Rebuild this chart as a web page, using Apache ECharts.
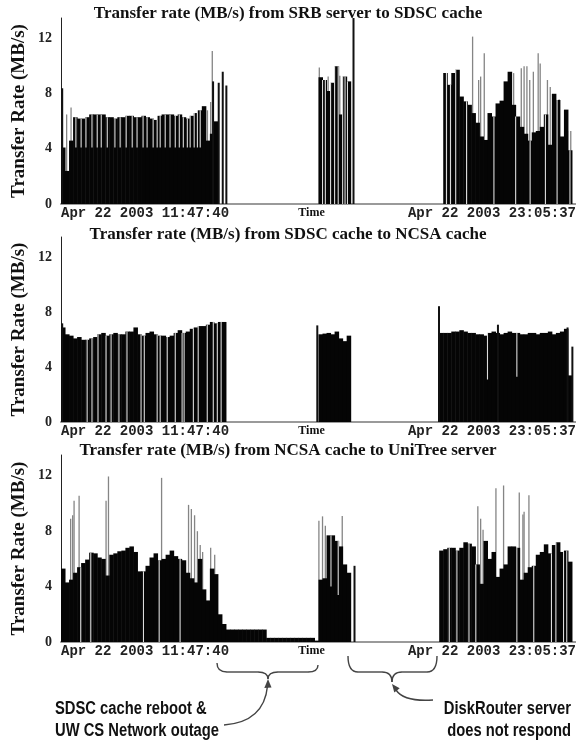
<!DOCTYPE html>
<html><head><meta charset="utf-8">
<script src="https://cdn.jsdelivr.net/npm/echarts@6/dist/echarts.min.js"></script>
<style>html,body{margin:0;padding:0;background:#fff}#c{width:576px;height:749px}</style>
</head><body><div id="c"></div>
<script>
// ---------- text ----------
const panelTitles = [
  'Transfer rate (MB/s) from SRB server to SDSC cache',
  'Transfer rate (MB/s) from SDSC cache to NCSA cache',
  'Transfer rate (MB/s) from NCSA cache to UniTree server'
];
const yAxisName = 'Transfer Rate (MB/s)';
const xAxisName = 'Time';
const timeLabels = ['Apr 22 2003 11:47:40', 'Apr 22 2003 23:05:37'];
const yMax = 13.5, yStep = 4;
const binCount = 128; // time bins across the 11:47:40 - 23:05:37 window

// ---------- panel 1 : SRB server -> SDSC cache ----------
// rate per time bin: [startBin, values...]
const srbRate = [
  [0, [4.1, 2.4, 4.6, 6.3, 6.2, 6.2, 6.3, 6.5, 6.5, 6.5, 6.5, 6.3, 6.3, 6.2, 6.3, 6.3, 6.4, 6.4, 6.3, 6.3,
       6.4, 6.3, 6.2, 6.1, 6.4, 6.5, 6.5, 6.5, 6.4, 6.5, 6.3, 6.2, 6.4, 6.6, 6.8, 7.1, 4.6, 5.1, 6.0]],
  [64, [9.2, 9.0, 8.2, 8.8, 10.0, 6.5, 9.25, 8.9]],
  [95, [9.5, 8.65, 9.5, 9.75, 7.8, 7.45, 7.2, 6.6, 5.9, 4.9, 4.65, 6.6, 6.35, 7.3, 7.5, 8.9, 9.6, 7.2, 6.35, 5.6,
        5.1, 4.6, 5.2, 5.3, 5.6, 6.5, 4.3, 8.0, 7.55, 4.9, 6.85, 3.9]]
];
// single peak transfers [bin position, rate]
const srbPeaks = [[1.4, 6.5], [2.5, 7.0], [36.4, 6.8], [37.2, 7.4], [37.6, 11.1], [64.2, 9.9], [65.3, 8.4],
  [66.4, 9.25], [69.3, 9.3], [70.9, 9.0], [71.4, 8.8], [102.3, 12.15], [103.8, 9.0], [104.3, 9.25],
  [105.2, 10.95], [112.5, 9.5], [114.4, 9.85], [115.1, 10.0], [115.8, 10.0], [116.5, 9.0], [117.4, 9.6],
  [118.6, 10.95], [119.1, 10.2], [120.9, 9.0], [121.6, 8.5], [123.8, 7.6], [125.9, 5.3], [126.7, 5.3]];
const srbLines = [[0.3, 8.4], [37.8, 8.9], [39.2, 8.8], [40.2, 9.6], [41.1, 8.6], [72.7, 13.5]];
// idle gaps [bin position, lowest rate inside the gap]
const srbGaps = [[3.7, 4.1], [5.0, 4.1], [6.2, 4.1], [7.7, 4.1], [9.0, 4.1], [10.0, 4.1], [11.5, 4.1],
  [13.4, 4.1], [14.7, 4.1], [16.2, 4.1], [17.7, 4.1], [18.9, 4.1], [20.4, 4.1], [21.4, 4.1], [22.9, 4.1],
  [23.9, 4.1], [24.65, 4.1], [25.9, 4.1], [27.1, 4.1], [28.4, 4.1], [29.4, 4.1], [30.4, 4.1], [31.4, 4.1],
  [32.1, 4.1], [33.1, 4.1], [33.9, 4.1], [34.6, 4.1], [65.0, 0], [65.7, 0], [67.0, 0], [68.0, 0], [68.9, 0],
  [70.0, 0], [70.6, 0], [71.2, 0], [95.8, 0], [96.8, 0], [98.1, 0], [100.8, 0], [107.6, 0], [113.0, 0],
  [116.6, 0], [120.4, 0], [123.3, 0], [126.5, 0]];

// ---------- panel 2 : SDSC cache -> NCSA cache ----------
const ncsaRate = [
  [0, [6.9, 6.4, 6.3, 6.1, 6.2, 6.0, 6.0, 6.1, 6.2, 6.4, 6.5, 6.3, 6.4, 6.5, 6.4, 6.4, 6.6, 6.6, 6.9, 6.4,
       6.3, 6.5, 6.6, 6.4, 6.3, 6.3, 6.2, 6.3, 6.5, 6.7, 6.5, 6.6, 6.8, 6.9, 7.0, 7.0, 7.1, 7.3, 7.2, 7.3, 7.3]],
  [64, [6.4, 6.45, 6.5, 6.4, 6.6, 6.1, 5.9, 6.3]],
  [94, [6.5, 6.5, 6.5, 6.6, 6.6, 6.7, 6.6, 6.5, 6.5, 6.4, 6.4, 6.3, 6.5, 6.6, 6.5, 6.4, 6.5, 6.6, 6.5, 6.5,
        6.4, 6.4, 6.5, 6.5, 6.4, 6.5, 6.5, 6.6, 6.4, 6.5, 6.6, 6.8, 3.4]]
];
const ncsaPeaks = [];
const ncsaLines = [[0.3, 7.2], [63.7, 7.05], [93.95, 8.45], [108.6, 7.1], [125.9, 6.9], [127.1, 5.5]];
const ncsaGaps = [[6.5, 0], [7.7, 0], [9.2, 0], [11.2, 0], [12.45, 0], [14.4, 0], [16.4, 0], [19.9, 0],
  [20.7, 0], [23.9, 0], [24.65, 0], [26.4, 0], [28.4, 0], [30.1, 0], [30.6, 0], [32.9, 0], [34.1, 0],
  [36.35, 0], [37.85, 0], [38.85, 0], [39.8, 0], [106.0, 3.1], [113.3, 3.3]];

// ---------- panel 3 : NCSA cache -> UniTree server ----------
const utRate = [
  [0, [5.3, 4.3, 4.5, 5.0, 5.4, 5.7, 5.95, 6.45, 6.4, 6.1, 6.0, 4.8, 6.3, 6.4, 6.55, 6.6, 6.8, 6.9, 6.5, 5.1,
       5.1, 5.5, 6.1, 6.4, 5.9, 6.0, 6.3, 6.6, 6.2, 6.0, 5.9, 5.0, 4.6, 4.3, 6.0, 3.8, 3.0, 5.3, 4.9, 2.0,
       1.3, 0.9, 0.9, 0.9, 0.9, 0.9, 0.9, 0.9, 0.9, 0.9, 0.9, 0.3, 0.3, 0.3, 0.3, 0.3, 0.3, 0.3, 0.3, 0.3,
       0.3, 0.3, 0.3, 0.1]],
  [64, [4.5, 4.6, 7.7, 7.7, 7.3, 6.9, 5.6, 5.0]],
  [94, [6.6, 6.7, 6.8, 6.8, 6.6, 6.8, 7.2, 7.1, 6.9, 5.6, 4.2, 7.3, 6.0, 6.5, 4.7, 5.3, 5.6, 6.9, 6.9, 6.8,
        4.5, 5.0, 5.4, 5.5, 6.3, 6.5, 7.05, 6.4, 7.0, 7.2, 6.5, 6.6, 5.8]]
];
const utPeaks = [[2.4, 8.9], [2.9, 9.15], [3.25, 10.2], [4.5, 10.55], [11.2, 10.2], [11.8, 11.95],
  [25.0, 11.85], [31.7, 9.9], [32.4, 9.6], [33.2, 9.15], [33.9, 8.0], [34.6, 7.0], [35.2, 6.5], [37.2, 6.8],
  [38.2, 6.3], [64.1, 8.75], [65.0, 9.07], [65.7, 8.4], [67.15, 7.5], [69.9, 9.1], [103.6, 9.8],
  [104.3, 8.9], [104.9, 8.1], [108.1, 11.1], [110.0, 11.3], [113.9, 10.8], [114.8, 9.2], [115.1, 9.4],
  [116.3, 10.6]];
const utLines = [[72.95, 5.5]];
const utGaps = [[4.9, 0], [7.4, 0], [20.5, 0], [24.4, 0], [29.6, 0], [67.1, 4.0], [68.9, 3.4], [96.5, 0],
  [98.4, 0], [101.4, 0], [103.1, 0], [113.3, 0], [117.5, 0], [121.9, 0], [123.0, 0], [124.9, 0], [125.7, 0]];

const notes = [
  ['SDSC cache reboot &', 'UW CS Network outage'],
  ['DiskRouter server', 'does not respond']
];

// ---------- build ----------
const panels = [
  {rate: srbRate, peaks: srbPeaks, lines: srbLines, gaps: srbGaps},
  {rate: ncsaRate, peaks: ncsaPeaks, lines: ncsaLines, gaps: ncsaGaps},
  {rate: utRate, peaks: utPeaks, lines: utLines, gaps: utGaps}
];
const gridBoxes = [[18, 186], [237, 185], [455, 187]];
const titleTops = [5, 226, 442];

function expand(segs) {
  const out = [];
  segs.forEach(([s, vals]) => vals.forEach((v, k) => { if (v != null) out.push([s + k, v]); }));
  return out;
}
const renderRate = (params, api) => {
  const i = api.value(0), v = api.value(1);
  const a = api.coord([i, v]), b = api.coord([i + 1, 0]);
  return {type: 'rect', shape: {x: a[0], y: a[1], width: b[0] - a[0] + 0.5, height: b[1] - a[1]},
          style: {fill: '#050505'}};
};
const thin = (w, color) => (params, api) => {
  const p = api.value(0), lo = api.value(1), hi = api.value(2);
  const a = api.coord([p, hi]), b = api.coord([p, lo]);
  return {type: 'rect', shape: {x: a[0] - w / 2, y: a[1], width: w, height: b[1] - a[1]}, style: {fill: color}};
};

const serif = '"Liberation Serif", "DejaVu Serif", serif';
const grid = [], xAxis = [], yAxis = [], series = [], title = [];
panels.forEach((p, k) => {
  grid.push({left: 61, right: 0, top: gridBoxes[k][0], height: gridBoxes[k][1], containLabel: false, outerBoundsMode: 'none'});
  title.push({text: panelTitles[k], left: 'center', top: titleTops[k], padding: [0, 0, 0, 12],
    textStyle: {fontFamily: serif, fontWeight: 'bold', fontSize: 17, color: '#111'}});
  xAxis.push({type: 'value', gridIndex: k, min: 0, max: binCount, interval: binCount,
    axisLine: {show: true, lineStyle: {color: '#9a9a9a', width: 2}}, axisTick: {show: false}, splitLine: {show: false},
    axisLabel: {show: true, margin: 2, formatter: v => (v === 0 ? timeLabels[0] : timeLabels[1]),
      alignMinLabel: 'left', alignMaxLabel: 'right',
      fontFamily: '"Liberation Mono", "DejaVu Sans Mono", monospace', fontWeight: 'bold', fontSize: 14, color: '#222'},
    name: xAxisName, nameLocation: 'middle', nameGap: 3, nameMoveOverlap: false,
    nameTextStyle: {fontFamily: serif, fontWeight: 'bold', fontSize: 12, color: '#111', padding: [0, 14, 0, 0], verticalAlign: 'top'}});
  yAxis.push({type: 'value', gridIndex: k, min: 0, max: yMax, interval: yStep,
    axisLine: {show: true, lineStyle: {color: '#222', width: 1}}, axisTick: {show: false}, splitLine: {show: false},
    axisLabel: {margin: 9, showMaxLabel: false, fontFamily: serif, fontWeight: 'bold', fontSize: 14, color: '#222'},
    name: yAxisName, nameLocation: 'middle', nameGap: 32, nameMoveOverlap: false,
    nameTextStyle: {fontFamily: serif, fontWeight: 'bold', fontSize: 19, color: '#111'}});

  const rateItems = expand(p.rate);
  const lookup = {};
  rateItems.forEach(([i, v]) => { lookup[i] = v; });
  const common = {type: 'custom', xAxisIndex: k, yAxisIndex: k, clip: true, silent: true, animation: false};
  series.push(Object.assign({}, common, {renderItem: thin(1.3, '#858585'), data: p.peaks.map(([x, v]) => [x, 0, v])}));
  series.push(Object.assign({}, common, {renderItem: renderRate, data: rateItems}));
  series.push(Object.assign({}, common, {renderItem: thin(1.1, '#dcdcdc'),
    data: p.gaps.filter(([x]) => lookup[Math.floor(x)] != null).map(([x, f]) => [x, f, lookup[Math.floor(x)]])}));
  series.push(Object.assign({}, common, {renderItem: thin(2, '#111'), data: p.lines.map(([x, v]) => [x, 0, v])}));
});

// ---------- annotations (braces, arrows, notes) ----------
const lineStyle = {stroke: '#444', lineWidth: 1.4, fill: null};
function brace(x0, x1, xm, yEnd0, yEnd1, yMid, yTip) {
  const r = 10;
  return [
    {type: 'bezierCurve', shape: {x1: x0, y1: yEnd0, cpx1: x0, cpy1: yMid, x2: x0 + r, y2: yMid}, style: lineStyle},
    {type: 'line', shape: {x1: x0 + r, y1: yMid, x2: xm - r, y2: yMid}, style: lineStyle},
    {type: 'bezierCurve', shape: {x1: xm - r, y1: yMid, cpx1: xm, cpy1: yMid, x2: xm, y2: yTip}, style: lineStyle},
    {type: 'bezierCurve', shape: {x1: xm, y1: yTip, cpx1: xm, cpy1: yMid, x2: xm + r, y2: yMid}, style: lineStyle},
    {type: 'line', shape: {x1: xm + r, y1: yMid, x2: x1 - r, y2: yMid}, style: lineStyle},
    {type: 'bezierCurve', shape: {x1: x1 - r, y1: yMid, cpx1: x1, cpy1: yMid, x2: x1, y2: yEnd1}, style: lineStyle}
  ];
}
const noteText = (text, x, y, align) => ({type: 'text', x: x, y: y, scaleX: 0.82,
  style: {text: text, align: align, verticalAlign: 'middle', fontFamily: '"Liberation Sans", Arial, sans-serif',
          fontWeight: 'bold', fontSize: 18, fill: '#111'}});
const graphic = [].concat(
  brace(217, 318, 268, 663, 665, 672, 679),
  brace(348, 437, 392, 656, 656, 672, 682),
  [
    noteText(notes[0][0], 55, 709, 'left'),
    noteText(notes[0][1], 55, 731, 'left'),
    noteText(notes[1][0], 571, 709, 'right'),
    noteText(notes[1][1], 571, 731, 'right'),
    {type: 'bezierCurve', shape: {x1: 224, y1: 725, cpx1: 264, cpy1: 722, x2: 267.5, y2: 686}, style: lineStyle},
    {type: 'polygon', shape: {points: [[268, 679], [264.3, 688], [271.5, 687.5]]}, style: {fill: '#444'}},
    {type: 'bezierCurve', shape: {x1: 433, y1: 700, cpx1: 404, cpy1: 702, x2: 396, y2: 690}, style: lineStyle},
    {type: 'polygon', shape: {points: [[392, 684], [399.7, 688.2], [394.3, 692.6]]}, style: {fill: '#444'}}
  ]
);

const chart = echarts.init(document.getElementById('c'), null, {renderer: 'canvas'});
chart.setOption({backgroundColor: '#fff', animation: false, title, grid, xAxis, yAxis, series, graphic});
</script>
</body></html>
